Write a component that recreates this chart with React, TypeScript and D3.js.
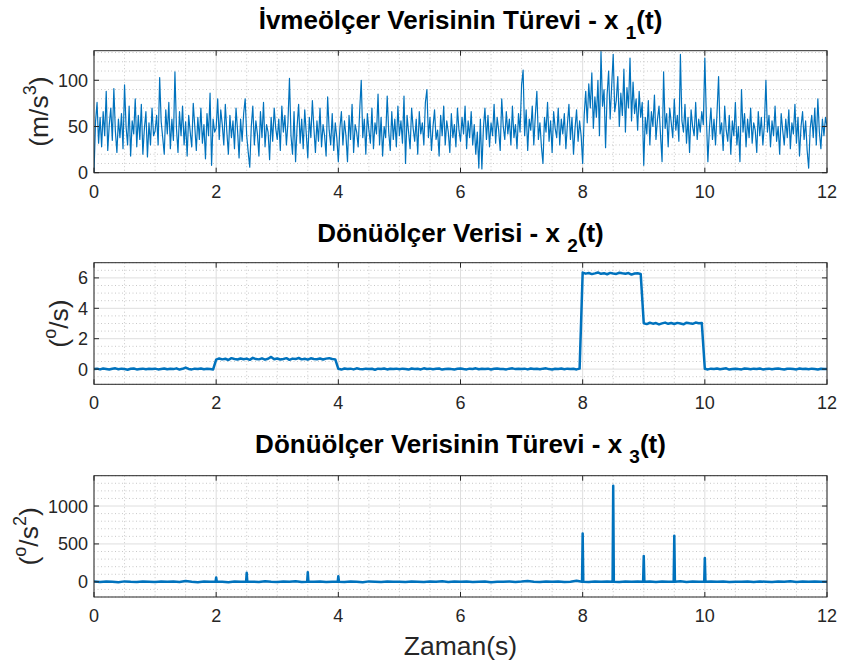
import React from 'react';
import * as d3 from 'd3';

// time axis, shared by all three panels
const xTicks = [0, 2, 4, 6, 8, 10, 12];

// x1(t): accelerometer derivative, one row per second, 0.025 s apart
const accelStep = 0.025;
const accelRows = [
  [0, 55, 76, 32, 60, 28, 66, 40, 88, 24, 52, 70, 35, 91, 45, 22, 58, 38, 64, 26, 95, 50, 30, 72, 18, 56, 42, 80, 28, 62, 36, 74, 20, 48, 66, 17, 54, 30, 70, 40],
  [45, 62, 30, 103, 55, 38, 20, 68, 42, 76, 26, 58, 35, 109, 48, 22, 66, 40, 72, 30, 55, 18, 62, 44, 28, 75, 50, 24, 60, 36, 70, 32, 52, 15, 64, 40, 86, 8, 58, 44],
  [48, 80, 36, 68, 52, 30, 74, 44, 20, 62, 38, 56, 26, 70, 46, 16, 58, 34, 64, 80, 40, 22, 6, 50, 72, 30, 56, 42, 18, 66, 38, 76, 28, 52, 44, 14, 60, 34, 70, 48],
  [36, 58, 24, 72, 44, 62, 30, 54, 102, 40, 20, 66, 12, 50, 74, 32, 58, 26, 68, 42, 16, 60, 38, 78, 48, 22, 56, 34, 70, 28, 52, 40, 18, 82, 46, 30, 64, 24, 54, 38],
  [12, 48, 66, 30, 56, 40, 12, 62, 36, 74, 22, 52, 44, 28, 68, 100, 38, 58, 20, 64, 46, 32, 70, 26, 54, 42, 85, 30, 60, 18, 50, 38, 83, 44, 24, 66, 36, 58, 28, 72],
  [40, 56, 32, 83, 10, 62, 44, 26, 70, 48, 34, 58, 20, 66, 42, 54, 30, 76, 90, 38, 60, 24, 50, 68, 36, 46, 18, 62, 40, 72, 30, 56, 44, 22, 64, 38, 52, 28, 70, 46],
  [34, 60, 42, 72, 26, 56, 38, 66, 30, 52, 20, 44, 5, 58, 4, 48, 70, 36, 62, 28, 54, 40, 74, 32, 60, 46, 24, 80, 50, 36, 66, 42, 58, 30, 72, 38, 52, 26, 64, 44],
  [95, 111, 40, 68, 24, 58, 46, 72, 30, 62, 88, 36, 54, 28, 10, 60, 44, 76, 34, 56, 22, 66, 48, 38, 70, 30, 58, 42, 64, 26, 52, 74, 36, 60, 20, 48, 68, 34, 56, 40],
  [10, 62, 88, 54, 96, 70, 108, 48, 82, 60, 100, 40, 131, 72, 90, 27, 84, 110, 58, 94, 128, 66, 78, 104, 50, 86, 62, 112, 44, 92, 70, 124, 56, 98, 64, 80, 46, 88, 60, 76],
  [8, 60, 42, 78, 30, 66, 50, 84, 36, 58, 72, 40, 12, 109, 48, 64, 28, 70, 54, 38, 80, 46, 62, 34, 128, 56, 44, 74, 32, 60, 22, 68, 50, 40, 76, 36, 58, 44, 66, 52],
  [124, 60, 12, 48, 70, 36, 58, 30, 66, 104, 42, 54, 24, 72, 46, 34, 62, 20, 56, 40, 76, 30, 50, 12, 90, 44, 64, 28, 58, 38, 70, 32, 54, 46, 22, 66, 40, 60, 30, 52],
  [100, 44, 62, 28, 56, 40, 72, 34, 50, 20, 64, 46, 30, 58, 38, 68, 26, 54, 42, 74, 32, 60, 18, 50, 66, 36, 56, 24, 5, 48, 62, 38, 70, 30, 80, 44, 26, 58, 40, 60],
  [50],
];

// x2(t): gyroscope, 0.05 s apart
const gyroStep = 0.05;
const gyroRows = [
  [0.00, 0.03, -0.02, 0.04, 0.01, -0.03, 0.02, 0.05, -0.01, 0.03, 0.00, -0.04, 0.02, 0.04, -0.02, 0.01, 0.03, -0.01, 0.02, 0.00],
  [0.03, -0.02, 0.01, 0.04, -0.01, 0.02, 0.00, 0.05, -0.03, 0.02, 0.10, 0.01, -0.02, 0.03, 0.00, 0.04, -0.01, 0.02, 0.01, -0.02],
  [0.62, 0.70, 0.64, 0.68, 0.60, 0.72, 0.66, 0.63, 0.70, 0.65, 0.69, 0.61, 0.74, 0.66, 0.64, 0.71, 0.62, 0.68, 0.80, 0.65],
  [0.70, 0.63, 0.67, 0.72, 0.61, 0.69, 0.66, 0.73, 0.64, 0.68, 0.62, 0.71, 0.67, 0.65, 0.70, 0.63, 0.69, 0.72, 0.66, 0.64],
  [0.02, -0.03, 0.04, 0.00, 0.03, -0.02, 0.05, 0.01, -0.01, 0.03, 0.00, 0.02, -0.04, 0.03, 0.01, 0.04, -0.02, 0.02, 0.00, 0.03],
  [-0.01, 0.03, 0.01, -0.03, 0.04, 0.00, 0.02, -0.02, 0.05, 0.01, 0.03, -0.01, 0.02, 0.04, -0.03, 0.01, 0.03, 0.00, -0.02, 0.02],
  [0.04, 0.00, -0.02, 0.03, 0.01, 0.05, -0.01, 0.02, 0.00, 0.03, -0.03, 0.02, 0.04, 0.00, 0.01, -0.02, 0.03, 0.05, 0.00, 0.02],
  [0.01, 0.03, -0.02, 0.04, 0.00, 0.02, -0.01, 0.03, 0.05, 0.00, -0.03, 0.02, 0.01, 0.04, -0.01, 0.03, 0.00, 0.02, -0.02, 0.03],
  [6.35, 6.28, 6.32, 6.25, 6.30, 6.36, 6.27, 6.31, 6.24, 6.33, 6.29, 6.26, 6.34, 6.30, 6.27, 6.32, 6.22, 6.29, 6.31, 6.26],
  [3.02, 2.96, 3.05, 2.99, 3.03, 2.94, 3.01, 3.06, 2.98, 3.03, 2.97, 3.04, 3.00, 2.95, 3.05, 3.01, 2.98, 3.06, 3.02, 3.04],
  [0.02, -0.02, 0.03, 0.00, 0.04, -0.01, 0.02, 0.05, -0.03, 0.01, 0.03, 0.00, -0.02, 0.04, 0.02, -0.01, 0.03, 0.01, 0.04, -0.02],
  [0.01, 0.03, -0.01, 0.02, 0.04, 0.00, -0.03, 0.02, 0.03, 0.01, -0.02, 0.04, 0.00, 0.02, -0.01, 0.03, 0.01, -0.02, 0.02, 0.00],
  [0.01],
];

// x3(t): gyroscope derivative, baseline every 0.1 s plus the spikes
const gyroDerivStep = 0.1;
const gyroDerivRows = [
  [3, -2, 5, 1, -4, 6, 0, -2, 4, 2],
  [-3, 4, 1, 5, -1, 12, 2, -4, 3, 0],
  [4, 2, -4, 5, 1, 3, 2, -2, 7, 1],
  [-2, 4, 1, 9, -3, 4, 0, 5, -1, 2],
  [5, -2, 3, 1, -4, 6, 2, -1, 4, 0],
  [2, -3, 5, 1, -2, 4, 1, 7, -2, 3],
  [0, 4, -1, 2, 5, -4, 2, 1, 5, -2],
  [3, 10, 0, -2, 4, 1, 6, -3, 2, 14],
  [2, -1, 5, 1, 4, 2, -2, 6, 0, 3],
  [1, 4, -2, 4, 1, 2, 8, -1, 3, 2],
  [-2, 4, 0, 5, -3, 2, 1, 6, -1, 4],
  [2, -1, 4, 1, 7, -2, 3, 0, 5, 2],
  [1],
];
const spikeTimes = [2, 2.5, 3.5, 4, 8, 8.5, 9, 9.5, 10];
const spikeValues = [57, 119, 128, 75, 639, 1266, 340, 608, 313];

const ticks1 = [0, 50, 100];
const ticks2 = [0, 2, 4, 6];
const ticks3 = [0, 500, 1000];

const toPoints = (rows: number[][], step: number) =>
  rows.flat().map((v, i) => [i * step, v] as [number, number]);

const accelPts = toPoints(accelRows, accelStep);
const gyroPts = toPoints(gyroRows, gyroStep);
const gyroDerivPts = (() => {
  const base = toPoints(gyroDerivRows, gyroDerivStep).filter(
    ([t]) => !spikeTimes.some(s => Math.abs(s - t) < 0.015)
  );
  const spikes: [number, number][] = [];
  spikeTimes.forEach((s, i) => {
    spikes.push([s - 0.01, 0], [s, spikeValues[i]], [s + 0.01, 0]);
  });
  return base.concat(spikes).sort((a, b) => a[0] - b[0]);
})();

const BLUE = '#0072BD';
const AXIS = '#262626';
const FONT = '"Liberation Sans", Arial, Helvetica, sans-serif';
const LEFT = 94;
const RIGHT = 827;

type PanelProps = {
  id: string;
  top: number;
  bottom: number;
  yDomain: [number, number];
  yTicks: number[];
  minorStep: number;
  points: [number, number][];
  strokeWidth: number;
  title: React.ReactNode;
  titleY: number;
  ylabel: React.ReactNode;
};

function Panel(p: PanelProps) {
  const x = d3.scaleLinear().domain([0, 12]).range([LEFT, RIGHT]);
  const y = d3.scaleLinear().domain(p.yDomain).range([p.bottom, p.top]);
  const minorX = d3.range(0, 12.0001, 0.5).filter(v => !xTicks.includes(v));
  const minorY = d3
    .range(p.yDomain[0], p.yDomain[1] + 1e-9, p.minorStep)
    .filter(v => !p.yTicks.some(t => Math.abs(t - v) < 1e-9));
  const line = d3
    .line<[number, number]>()
    .x(d => x(d[0]))
    .y(d => y(d[1]));
  const widest = d3.max(p.yTicks, t => String(t).length) || 1;
  const labelX = LEFT - 6 - widest * 10 - 10;
  const midY = (p.top + p.bottom) / 2;

  return (
    <g>
      <defs>
        <clipPath id={p.id}>
          <rect x={LEFT} y={p.top} width={RIGHT - LEFT} height={p.bottom - p.top} />
        </clipPath>
      </defs>
      <rect x={LEFT} y={p.top} width={RIGHT - LEFT} height={p.bottom - p.top} fill="#fff" />
      {/* minor grid */}
      {minorX.map(v => (
        <line key={'mx' + v} x1={x(v)} x2={x(v)} y1={p.top} y2={p.bottom}
          stroke="#c8c8c8" strokeWidth={1} strokeDasharray="1,2.5" />
      ))}
      {minorY.map(v => (
        <line key={'my' + v} x1={LEFT} x2={RIGHT} y1={y(v)} y2={y(v)}
          stroke="#c8c8c8" strokeWidth={1} strokeDasharray="1,2.5" />
      ))}
      {/* major grid */}
      {xTicks.map(v => (
        <line key={'gx' + v} x1={x(v)} x2={x(v)} y1={p.top} y2={p.bottom} stroke="#dedede" strokeWidth={1} />
      ))}
      {p.yTicks.map(v => (
        <line key={'gy' + v} x1={LEFT} x2={RIGHT} y1={y(v)} y2={y(v)} stroke="#dedede" strokeWidth={1} />
      ))}
      <path d={line(p.points) || ''} fill="none" stroke={BLUE} strokeWidth={p.strokeWidth}
        strokeLinejoin="round" clipPath={`url(#${p.id})`} />
      {/* box and inward ticks */}
      <rect x={LEFT} y={p.top} width={RIGHT - LEFT} height={p.bottom - p.top} fill="none" stroke={AXIS} strokeWidth={1} />
      {xTicks.map(v => (
        <g key={'tx' + v}>
          <line x1={x(v)} x2={x(v)} y1={p.bottom} y2={p.bottom - 5} stroke={AXIS} />
          <line x1={x(v)} x2={x(v)} y1={p.top} y2={p.top + 5} stroke={AXIS} />
          <text x={x(v)} y={p.bottom + 25} textAnchor="middle" fontSize={18} fill={AXIS}>{v}</text>
        </g>
      ))}
      {p.yTicks.map(v => (
        <g key={'ty' + v}>
          <line x1={LEFT} x2={LEFT + 5} y1={y(v)} y2={y(v)} stroke={AXIS} />
          <line x1={RIGHT} x2={RIGHT - 5} y1={y(v)} y2={y(v)} stroke={AXIS} />
          <text x={LEFT - 6} y={y(v) + 6.5} textAnchor="end" fontSize={18} fill={AXIS}>{v}</text>
        </g>
      ))}
      <text x={(LEFT + RIGHT) / 2} y={p.titleY} textAnchor="middle" fontSize={26} fontWeight="bold" fill="#000">
        {p.title}
      </text>
      <text transform={`translate(${labelX},${midY}) rotate(-90)`} textAnchor="middle" fontSize={26.5} fill={AXIS}>
        {p.ylabel}
      </text>
    </g>
  );
}

const sub = (s: string) => (
  <>
    <tspan fontSize={19} dy={10}>{s}</tspan>
    <tspan dy={-10}>(t)</tspan>
  </>
);
const sup = (s: string) => <tspan fontSize={18} dy={-12}>{s}</tspan>;

export default function App() {
  return (
    <svg width={843} height={666} style={{ position: 'absolute', left: 0, top: 0, background: '#fff' }}
      fontFamily={FONT}>
      <rect width={843} height={666} fill="#fff" />
      <Panel id="c1" top={50.7} bottom={172.7} yDomain={[0, 132]} yTicks={ticks1} minorStep={10}
        points={accelPts} strokeWidth={1.2} titleY={29}
        title={<>{'İvmeölçer Verisinin Türevi - x '}{sub('1')}</>}
        ylabel={<>{'(m/s'}{sup('3')}<tspan dy={12}>)</tspan></>} />
      <Panel id="c2" top={262.7} bottom={384.3} yDomain={[-1, 7]} yTicks={ticks2} minorStep={0.5}
        points={gyroPts} strokeWidth={2.5} titleY={241.5}
        title={<>{'Dönüölçer Verisi - x '}{sub('2')}</>}
        ylabel={<>{'('}{sup('o')}<tspan dy={12}>/s)</tspan></>} />
      <Panel id="c3" top={475.7} bottom={597} yDomain={[-200, 1400]} yTicks={ticks3} minorStep={100}
        points={gyroDerivPts} strokeWidth={2.5} titleY={453.3}
        title={<>{'Dönüölçer Verisinin Türevi - x '}{sub('3')}</>}
        ylabel={<>{'('}{sup('o')}<tspan dy={12}>/s</tspan>{sup('2')}<tspan dy={12}>)</tspan></>} />
      <text x={(LEFT + RIGHT) / 2} y={655} textAnchor="middle" fontSize={26.5} fill={AXIS}>Zaman(s)</text>
    </svg>
  );
}
